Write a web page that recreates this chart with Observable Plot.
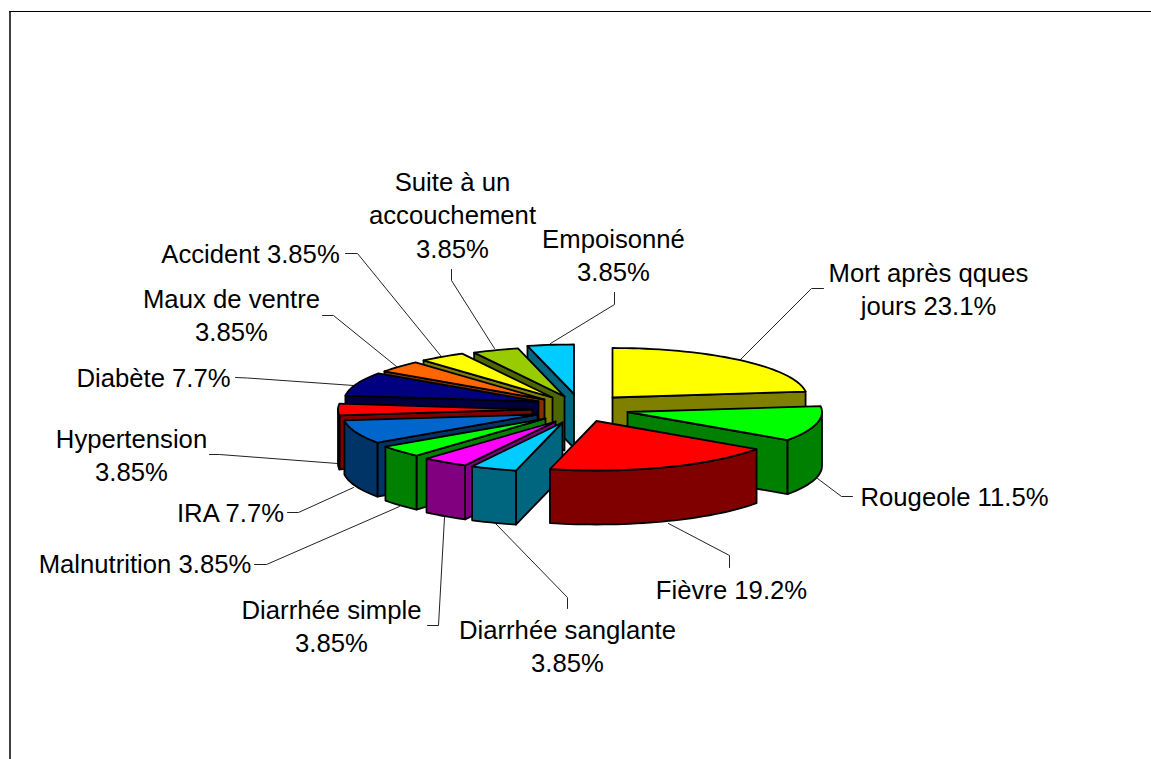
<!DOCTYPE html>
<html>
<head>
<meta charset="utf-8">
<script src="https://cdn.jsdelivr.net/npm/d3@7"></script>
<script src="https://cdn.jsdelivr.net/npm/@observablehq/plot@0.6"></script>
<style>html,body{margin:0;padding:0;background:#fff}svg{display:block}</style>
</head>
<body>
<div id="chart"></div>
<script>
// Data: causes of death, counts out of 26 (share shown in the labels)
const categories = ["Mort après qques jours","Rougeole","Fièvre","Diarrhée sanglante","Diarrhée simple","Malnutrition","IRA","Hypertension","Diabète","Maux de ventre","Accident","Suite à un accouchement","Empoisonné"];
const counts = [6,3,5,1,1,1,2,1,2,1,1,1,1];
const percents = ["23.1%","11.5%","19.2%","3.85%","3.85%","3.85%","7.7%","3.85%","7.7%","3.85%","3.85%","3.85%","3.85%"];
const topColors = ["#ffff00","#00ff00","#ff0000","#00ccff","#ff00ff","#00ff00","#0066cc","#ff0000","#000080","#ff6600","#ffff00","#99cc00","#00ccff"];
const sideColors = ["#808000","#008000","#800000","#006680","#800080","#008000","#003366","#800000","#000040","#803300","#808000","#4d6600","#006680"];

// Layout: where each exploded slice's tip sits, and the pie's projected size
const tipX = [612,627,596,562,555,545,537,532,538,544,552,564,573.5];
const tipY = [397,411.5,420.5,422,421,418,414,409,401,399,397,396,393.5];
const paintOrder = [12,11,10,9,8,7,6,5,4,3,0,1,2];
const radiusX = 194.5, radiusY = 49.5, depth = 54;

// Label text lines and leader lines
const labelLines = [["Mort après qques","jours 23.1%"],["Rougeole 11.5%"],["Fièvre 19.2%"],["Diarrhée sanglante","3.85%"],["Diarrhée simple","3.85%"],["Malnutrition 3.85%"],["IRA 7.7%"],["Hypertension","3.85%"],["Diabète 7.7%"],["Maux de ventre","3.85%"],["Accident 3.85%"],["Suite à un","accouchement","3.85%"],["Empoisonné","3.85%"]];
const labelX = [928,954,731,567,331,144.5,230,131,153,231,250,452,613];
const labelY = [287.5,495,588,644.5,624.5,562,511,453.5,376,313.5,252,213,253.5];
const leaders = [
  [[823,288],[811,288],[740,359]],
  [[852,496],[841,496],[817,478]],
  [[729,567],[729,555],[668,523]],
  [[567,608],[567,597],[495,523]],
  [[427,625],[438,625],[444,517]],
  [[254,564],[266,564],[399,506]],
  [[287,512],[298,512],[353,487]],
  [[209,454],[219,454],[337,463]],
  [[235,377],[247,377.5],[353,385]],
  [[322,315],[333,315],[396,366]],
  [[345,253],[357,253],[440,355]],
  [[451,269],[451,280],[494,348]],
  [[614,292],[614,304],[550,343]]
];

const total = d3.sum(counts);
const cum = d3.cumsum(counts);
const rad = d => d * Math.PI / 180;
const slices = counts.map((c, i) => ({
  t0: (cum[i] - c) / total * 360,
  t1: cum[i] / total * 360,
  tx: tipX[i], ty: tipY[i], top: topColors[i], side: sideColors[i]
}));
const rim = (s, t) => [s.tx + radiusX * Math.sin(rad(t)), s.ty - radiusY * Math.cos(rad(t))];
const arc = (s, a, b) => {
  const n = Math.max(2, Math.ceil((b - a) / 2));
  return d3.range(n + 1).map(k => rim(s, a + (b - a) * k / n));
};
const down = p => [p[0], p[1] + depth];
const poly = (pts, fill) => Plot.line(pts, {
  x: d => d[0], y: d => d[1], fill, stroke: "#000", strokeWidth: 1.8,
  curve: "linear-closed", strokeLinejoin: "round"
});

const marks = [
  Plot.ruleX([9.5], {y1: 11, y2: 759, stroke: "#404040", strokeWidth: 2}),
  Plot.ruleY([11], {x1: 9, x2: 1151, stroke: "#000", strokeWidth: 1})
];

leaders.forEach(l => marks.push(Plot.line(l, {x: d => d[0], y: d => d[1], stroke: "#222", strokeWidth: 1})));

paintOrder.forEach(i => {
  const s = slices[i], tip = [s.tx, s.ty];
  const wall = t => { const p = rim(s, t); return [tip, p, down(p), down(tip)]; };
  if (Math.sin(rad(s.t0)) < 0) marks.push(poly(wall(s.t0), s.side));
  if (Math.sin(rad(s.t1)) > 0) marks.push(poly(wall(s.t1), s.side));
  const a = Math.max(s.t0, 90), b = Math.min(s.t1, 270);
  if (b > a) {
    const front = arc(s, a, b);
    marks.push(poly([...front, ...front.slice().reverse().map(down)], s.side));
  }
  marks.push(poly([tip, ...arc(s, s.t0, s.t1)], s.top));
});

const labels = categories.map((c, i) => ({text: labelLines[i].join("\n"), x: labelX[i], y: labelY[i]}));
marks.push(Plot.text(labels, {
  x: "x", y: "y", text: "text", fontSize: 25.7, lineHeight: 1.3,
  fontFamily: "Liberation Sans", fill: "#000", textAnchor: "middle", lineAnchor: "middle"
}));

document.getElementById("chart").append(Plot.plot({
  width: 1151, height: 759, margin: 0,
  style: {background: "#fff"},
  x: {domain: [0, 1151], range: [0, 1151], axis: null},
  y: {domain: [0, 759], range: [0, 759], axis: null},
  marks
}));
</script>
</body>
</html>
